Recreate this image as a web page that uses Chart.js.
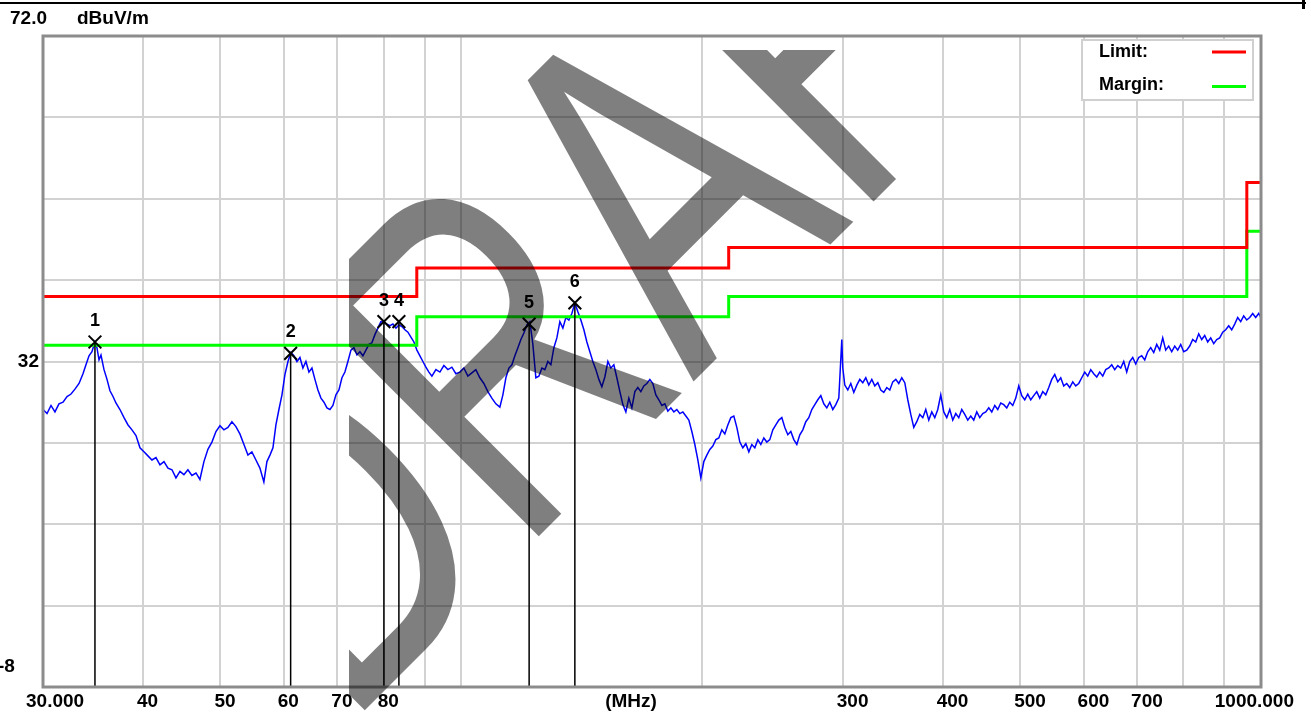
<!DOCTYPE html>
<html>
<head>
<meta charset="utf-8">
<title>Radiated emission 30 - 1000 MHz</title>
<script src="https://cdn.jsdelivr.net/npm/chart.js@4.4.1/dist/chart.umd.min.js"></script>
<style>
  html, body { margin: 0; padding: 0; background: #ffffff; }
  #wrap { width: 1311px; height: 714px; }
</style>
</head>
<body>
<div id="wrap"><canvas id="emi" width="1311" height="714"></canvas></div>
<script>
// measured trace, frequency in MHz and level in dBuV/m
const freqMHz = [
  30.00, 30.35, 30.70, 31.05, 31.41, 31.78, 32.15, 32.52, 32.89, 33.28,
  33.66, 33.95, 34.25, 34.54, 34.84, 35.04, 35.25, 35.45, 35.76, 36.07,
  36.38, 36.70, 37.01, 37.44, 37.88, 38.32, 38.76, 39.21, 39.66, 40.12,
  40.58, 41.05, 41.53, 42.01, 42.50, 42.99, 43.49, 43.99, 44.50, 45.01,
  45.53, 46.06, 46.60, 47.13, 47.68, 48.23, 48.79, 49.36, 49.93, 50.50,
  51.09, 51.68, 52.28, 52.88, 53.50, 54.12, 54.74, 55.38, 56.02, 56.66,
  57.16, 57.66, 58.16, 58.66, 59.17, 59.69, 60.20, 60.73, 61.25, 61.78,
  62.32, 62.86, 63.40, 63.95, 64.51, 65.07, 65.63, 66.20, 66.78, 67.36,
  67.94, 68.53, 69.12, 69.72, 70.33, 70.94, 71.55, 72.17, 72.80, 73.43,
  74.07, 74.71, 75.36, 76.01, 76.67, 77.33, 78.00, 78.68, 79.36, 80.05,
  80.75, 81.45, 82.15, 82.87, 83.58, 84.31, 85.04, 85.78, 86.52, 87.27,
  88.03, 88.79, 89.56, 90.34, 91.12, 91.91, 92.98, 94.05, 95.14, 96.24,
  97.35, 98.48, 99.62, 100.77, 101.94, 103.12, 104.31, 105.52, 106.74, 107.98,
  109.23, 110.49, 111.77, 112.75, 113.73, 114.72, 115.71, 116.71, 117.73, 118.75,
  119.78, 120.82, 121.86, 122.92, 123.98, 125.06, 126.15, 127.24, 128.34, 129.46,
  130.58, 131.71, 132.85, 134.01, 135.17, 136.34, 137.52, 138.71, 139.92, 141.13,
  142.36, 143.59, 144.83, 146.09, 147.36, 148.64, 149.92, 151.22, 152.54, 153.86,
  155.19, 156.54, 157.90, 159.27, 160.65, 162.04, 163.45, 164.86, 166.29, 167.73,
  169.19, 170.66, 172.14, 173.63, 175.14, 176.65, 178.19, 179.73, 181.29, 182.86,
  184.45, 186.05, 187.66, 189.29, 190.93, 192.59, 194.26, 195.94, 197.64, 199.35,
  201.08, 202.82, 204.58, 206.36, 208.15, 209.95, 211.77, 213.61, 215.46, 217.33,
  219.22, 221.12, 223.04, 224.97, 226.92, 228.89, 230.87, 232.87, 234.89, 236.93,
  238.99, 241.06, 243.15, 245.26, 247.39, 249.53, 251.69, 253.88, 256.08, 258.30,
  260.54, 262.80, 265.08, 267.38, 269.69, 272.03, 274.39, 276.77, 279.17, 281.59,
  284.04, 286.50, 288.98, 291.49, 294.02, 296.57, 299.14, 300.00, 301.73, 304.35,
  306.99, 309.65, 312.34, 315.05, 317.78, 320.53, 323.31, 326.12, 328.94, 331.80,
  334.67, 337.58, 340.50, 343.46, 346.43, 349.44, 352.47, 355.53, 358.61, 361.72,
  364.86, 368.02, 371.21, 374.43, 377.68, 380.95, 384.26, 387.59, 390.95, 394.34,
  397.76, 401.21, 404.69, 408.20, 411.74, 415.31, 418.91, 422.54, 426.21, 429.90,
  433.63, 437.39, 441.19, 445.01, 448.87, 452.76, 456.69, 460.65, 464.65, 468.68,
  472.74, 476.84, 480.97, 485.15, 489.35, 493.60, 497.88, 502.19, 506.55, 510.94,
  515.37, 519.84, 524.35, 528.90, 533.48, 538.11, 542.78, 547.49, 552.23, 557.02,
  561.85, 566.72, 571.64, 576.59, 581.60, 586.64, 591.73, 596.86, 602.04, 607.26,
  612.52, 617.84, 623.20, 628.60, 634.05, 639.55, 645.10, 650.69, 656.33, 662.03,
  667.77, 673.56, 679.39, 685.29, 691.23, 697.22, 703.27, 709.37, 715.52, 721.73,
  727.98, 734.30, 740.66, 747.09, 753.57, 760.10, 766.69, 773.34, 780.05, 786.82,
  793.64, 800.52, 807.46, 814.46, 821.53, 828.65, 835.84, 843.08, 850.40, 857.77,
  865.21, 872.71, 880.28, 887.92, 895.61, 903.38, 911.22, 919.12, 927.09, 935.13,
  943.24, 951.42, 959.67, 968.00, 976.39, 984.86, 993.39, 1000.00
];
const levelDb = [
  26.1, 25.6, 26.6, 25.8, 26.8, 27.0, 27.7, 28.0, 28.6, 29.3,
  30.5, 31.6, 32.7, 33.2, 34.4, 33.7, 32.2, 32.8, 31.0, 29.8,
  28.4, 27.7, 26.9, 26.1, 25.1, 24.2, 23.6, 22.9, 21.4, 20.9,
  20.4, 19.9, 20.2, 19.3, 19.7, 18.9, 18.7, 17.7, 18.5, 18.1,
  18.7, 18.0, 18.3, 17.5, 19.7, 21.2, 22.1, 23.4, 24.1, 23.6,
  23.9, 24.6, 24.0, 23.1, 21.8, 20.5, 20.9, 19.9, 18.9, 17.2,
  19.7, 20.5, 21.4, 24.2, 26.1, 27.9, 30.4, 32.0, 33.1, 32.7,
  32.0, 32.5, 31.2, 32.0, 30.7, 31.2, 29.8, 28.5, 27.5, 27.0,
  26.3, 26.1, 26.6, 27.9, 28.5, 30.0, 30.7, 32.0, 33.4, 33.7,
  32.8, 33.2, 32.7, 33.4, 34.1, 34.3, 35.3, 36.1, 36.9, 36.8,
  36.6, 36.4, 36.6, 36.1, 36.5, 36.3, 35.9, 35.6, 35.0, 34.4,
  33.4, 32.7, 32.0, 31.3, 30.7, 30.2, 31.0, 30.7, 31.5, 31.0,
  31.3, 30.5, 30.7, 31.2, 30.2, 30.6, 31.0, 30.0, 29.3, 28.3,
  27.5, 26.8, 26.4, 27.9, 30.0, 31.2, 31.6, 32.7, 33.7, 34.7,
  35.5, 36.5, 36.9, 34.1, 30.0, 30.2, 31.2, 31.0, 32.0, 31.6,
  33.7, 34.9, 36.9, 36.1, 37.4, 37.1, 37.9, 39.2, 38.1, 37.1,
  35.9, 34.4, 33.2, 32.0, 31.0, 29.8, 28.9, 30.1, 32.0, 31.2,
  31.6, 30.0, 28.3, 26.7, 25.8, 27.5, 26.3, 28.3, 28.8, 28.3,
  29.0, 29.3, 29.8, 29.3, 27.9, 27.3, 26.6, 26.8, 25.9, 26.3,
  25.8, 26.1, 25.6, 25.8, 25.3, 24.8, 23.4, 21.8, 19.9, 17.7,
  19.7, 20.5, 21.2, 21.6, 22.4, 22.6, 23.6, 23.1, 24.2, 25.1,
  25.3, 23.9, 22.1, 21.4, 21.9, 20.9, 21.8, 21.4, 22.4, 21.8,
  22.6, 22.1, 22.4, 23.6, 24.2, 24.8, 25.1, 23.9, 23.0, 23.4,
  22.4, 21.8, 23.0, 23.6, 24.6, 25.1, 26.1, 26.7, 27.3, 27.8,
  26.8, 26.3, 27.0, 26.1, 26.7, 27.5, 34.7, 31.2, 29.1, 28.5,
  29.3, 28.2, 29.1, 29.8, 29.4, 30.0, 29.1, 29.8, 29.0, 29.4,
  28.5, 28.2, 28.8, 28.5, 29.5, 29.8, 29.3, 30.0, 29.4, 27.3,
  25.5, 23.9, 24.6, 25.5, 25.1, 26.1, 24.8, 25.8, 25.1, 26.1,
  27.9, 25.8, 25.1, 26.1, 24.8, 25.6, 25.1, 26.1, 25.5, 24.8,
  25.3, 24.8, 25.8, 25.1, 25.6, 25.8, 26.3, 25.8, 26.6, 26.1,
  26.9, 26.7, 26.3, 27.0, 26.6, 27.5, 29.0, 27.8, 27.3, 28.0,
  27.3, 27.8, 28.3, 27.5, 28.3, 27.9, 28.8, 29.8, 30.4, 29.5,
  30.0, 29.0, 29.3, 28.8, 29.5, 29.0, 29.3, 30.0, 30.7, 30.2,
  31.0, 30.5, 30.1, 30.7, 30.2, 31.0, 31.2, 31.6, 31.0, 31.5,
  31.2, 32.0, 30.7, 32.0, 32.5, 31.7, 32.5, 32.7, 32.2, 33.2,
  33.7, 33.1, 34.1, 33.4, 34.9, 33.4, 33.9, 33.2, 33.9, 33.4,
  34.1, 33.2, 33.4, 33.9, 34.7, 34.4, 35.4, 34.7, 35.2, 34.4,
  34.9, 34.2, 34.7, 34.9, 35.6, 35.9, 36.4, 35.9, 36.6, 37.4,
  36.9, 37.6, 37.1, 37.4, 37.9, 37.4, 37.9, 37.4
];

// limit and margin lines (step changes at the listed frequencies)
const limitFreq = [30, 88, 216, 960, 1000];
const limitDb = [40, 43.5, 46, 54, 54];
const marginDb = [34, 37.5, 40, 48, 48];

// peak markers
const markerNo = [1, 2, 3, 4, 5, 6];
const markerFreq = [34.84, 61.20, 80.05, 83.58, 121.60, 138.71];
const markerDb = [34.4, 33.0, 36.9, 36.9, 36.6, 39.2];

// axes
const xGridValues = [30, 40, 50, 60, 70, 80, 90, 100, 200, 300, 400, 500, 600, 700, 800, 900, 1000];
const xLabelValues = [30, 40, 50, 60, 70, 80, 300, 400, 500, 600, 700, 1000];
const xLabelText = ['30.000', '40', '50', '60', '70', '80', '300', '400', '500', '600', '700', '1000.000'];
const yGridValues = [-8, 2, 12, 22, 32, 42, 52, 62, 72];
const yLabelValues = [32, -8];
const yTopLabel = '72.0';
const yUnit = 'dBuV/m';
const xUnit = '(MHz)';
const watermark = 'DRAFT';

if (freqMHz.length !== levelDb.length) {
  console.warn('trace arrays differ in length', freqMHz.length, levelDb.length);
}

const FONT = '"Liberation Sans", Arial, sans-serif';

const tracePoints = freqMHz.map((f, i) => ({ x: f, y: levelDb[i] }));
const limitPoints = limitFreq.map((f, i) => ({ x: f, y: limitDb[i] }));
const marginPoints = limitFreq.map((f, i) => ({ x: f, y: marginDb[i] }));
const markerPoints = markerFreq.map((f, i) => ({ x: f, y: markerDb[i] }));
const markerDrops = [];
markerFreq.forEach((f, i) => {
  markerDrops.push({ x: f, y: markerDb[i] }, { x: f, y: yGridValues[0] }, { x: f, y: null });
});

const frame = {
  id: 'frame',
  beforeDraw(chart) {
    const { ctx, width, height } = chart;
    ctx.save();
    ctx.fillStyle = '#ffffff';
    ctx.fillRect(0, 0, width, height);
    ctx.restore();
  },
  afterDatasetsDraw(chart) {
    const { ctx, chartArea: a, scales: { x, y } } = chart;
    ctx.save();

    // plot border
    ctx.strokeStyle = '#8c8c8c';
    ctx.lineWidth = 3;
    ctx.strokeRect(a.left, a.top, a.right - a.left, a.bottom - a.top);

    // marker numbers
    ctx.fillStyle = '#000000';
    ctx.font = 'bold 18px ' + FONT;
    ctx.textAlign = 'center';
    ctx.textBaseline = 'middle';
    markerNo.forEach((n, i) => {
      ctx.fillText(String(n), x.getPixelForValue(markerFreq[i]), y.getPixelForValue(markerDb[i]) - 21);
    });

    // axis labels
    ctx.font = 'bold 19px ' + FONT;
    const labelY = a.bottom + 15;
    xLabelValues.forEach((v, i) => {
      const px = x.getPixelForValue(v);
      if (i === 0) {
        ctx.textAlign = 'left';
        ctx.fillText(xLabelText[i], px - 17, labelY);
      } else if (i === xLabelValues.length - 1) {
        ctx.textAlign = 'right';
        ctx.fillText(xLabelText[i], px + 33, labelY);
      } else {
        ctx.textAlign = 'left';
        ctx.fillText(xLabelText[i], px - 6, labelY);
      }
    });
    ctx.textAlign = 'center';
    ctx.fillText(xUnit, 631, labelY);

    ctx.textAlign = 'right';
    ctx.fillText(String(yLabelValues[0]), a.left - 4, y.getPixelForValue(yLabelValues[0]));
    ctx.textAlign = 'left';
    ctx.fillText(String(yLabelValues[1]), -2, y.getPixelForValue(yLabelValues[1]) - 20);
    ctx.fillText(yTopLabel, 10, a.top - 17);
    ctx.fillText(yUnit, 77, a.top - 17);

    // legend box
    const bw = 171, bh = 60;
    const bx = a.right - 179, by = a.top + 4;
    ctx.fillStyle = '#ffffff';
    ctx.fillRect(bx, by, bw, bh);
    ctx.strokeStyle = '#d0d0d0';
    ctx.lineWidth = 2;
    ctx.strokeRect(bx, by, bw, bh);
    const legendSets = chart.data.datasets.filter(d => d.inLegend);
    ctx.font = 'bold 18px ' + FONT;
    ctx.textAlign = 'left';
    legendSets.forEach((d, i) => {
      const ly = by + 12 + i * 33;
      ctx.fillStyle = '#000000';
      ctx.fillText(d.label, bx + 17, ly);
      ctx.strokeStyle = d.borderColor;
      ctx.lineWidth = 3;
      ctx.beginPath();
      ctx.moveTo(bx + 130, ly + i * 1.5);
      ctx.lineTo(bx + 164, ly + i * 1.5);
      ctx.stroke();
    });

    // frame line at the top of the page
    ctx.fillStyle = '#000000';
    ctx.fillRect(0, 2, 1306, 2);
    ctx.fillRect(1302, 0, 3, 9);
    ctx.restore();
  },
  afterDraw(chart) {
    const { ctx, width, height } = chart;
    ctx.save();
    ctx.beginPath();
    ctx.rect(349, 50, width - 349, height - 50);
    ctx.clip();
    ctx.translate(345, 730);
    ctx.rotate(-Math.PI / 4);
    ctx.scale(0.71, 1);
    ctx.font = '480px ' + FONT;
    ctx.fillStyle = 'rgba(0,0,0,0.5)';
    ctx.textAlign = 'left';
    ctx.textBaseline = 'alphabetic';
    ctx.fillText(watermark, 0, 0);
    ctx.restore();
  }
};

try {
  new Chart(document.getElementById('emi'), {
    type: 'line',
    data: {
      datasets: [
        {
          label: 'Markers',
          data: markerPoints,
          showLine: false,
          pointStyle: 'crossRot',
          pointRadius: 9,
          pointBorderWidth: 2,
          pointBorderColor: '#000000',
          pointBackgroundColor: 'rgba(0,0,0,0)'
        },
        {
          label: 'Marker lines',
          data: markerDrops,
          borderColor: '#000000',
          borderWidth: 1.5,
          pointRadius: 0,
          spanGaps: false
        },
        {
          label: 'Limit:',
          inLegend: true,
          data: limitPoints,
          stepped: 'before',
          borderColor: '#ff0000',
          borderWidth: 3,
          pointRadius: 0
        },
        {
          label: 'Margin:',
          inLegend: true,
          data: marginPoints,
          stepped: 'before',
          borderColor: '#00ff00',
          borderWidth: 3,
          pointRadius: 0
        },
        {
          label: 'Level',
          data: tracePoints,
          borderColor: '#0000ff',
          borderWidth: 1.5,
          pointRadius: 0,
          tension: 0
        }
      ]
    },
    options: {
      responsive: false,
      animation: false,
      devicePixelRatio: 1,
      events: [],
      layout: { padding: { left: 43, top: 36, right: 50, bottom: 27 } },
      plugins: { legend: { display: false }, tooltip: { enabled: false } },
      scales: {
        x: {
          type: 'logarithmic',
          min: 30,
          max: 1000,
          afterBuildTicks: s => { s.ticks = xGridValues.map(v => ({ value: v })); },
          ticks: { display: false },
          grid: { color: '#d2d2d2', lineWidth: 2, drawTicks: false },
          border: { display: false }
        },
        y: {
          type: 'linear',
          min: -8,
          max: 72,
          afterBuildTicks: s => { s.ticks = yGridValues.map(v => ({ value: v })); },
          ticks: { display: false },
          grid: { color: '#d2d2d2', lineWidth: 2, drawTicks: false },
          border: { display: false }
        }
      }
    },
    plugins: [frame]
  });
} catch (e) {
  console.error('emission chart failed:', e);
}
</script>
</body>
</html>
